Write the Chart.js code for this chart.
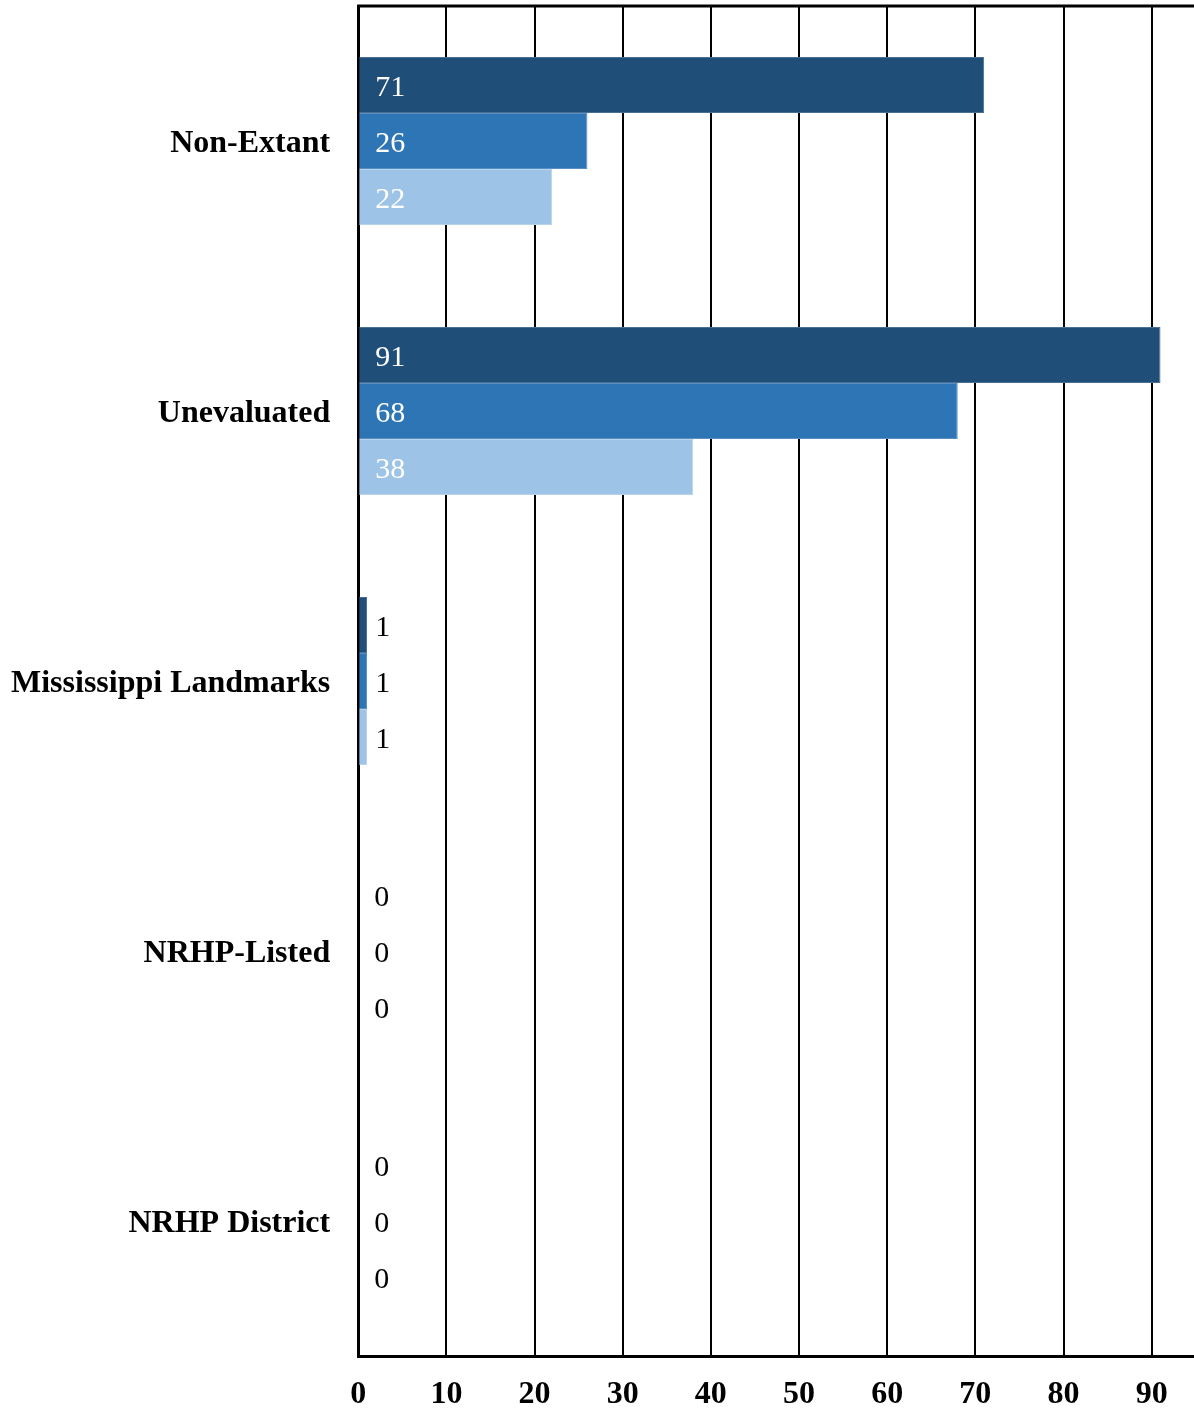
<!DOCTYPE html>
<html>
<head>
<meta charset="utf-8">
<script src="https://cdn.jsdelivr.net/npm/chart.js@4.4.0/dist/chart.umd.min.js"></script>
<style>
  html, body { margin: 0; padding: 0; background: #fff; }
  #wrap { width: 1194px; height: 1409px; position: relative; }
</style>
</head>
<body>
<div id="wrap"><canvas id="chart"></canvas></div>
<script>
const categories = ['Non-Extant', 'Unevaluated', 'Mississippi Landmarks', 'NRHP-Listed', 'NRHP District'];
const seriesA = [71, 91, 1, 0, 0];
const seriesB = [26, 68, 1, 0, 0];
const seriesC = [22, 38, 1, 0, 0];
const xTicks = [0, 10, 20, 30, 40, 50, 60, 70, 80, 90];

const colors = ['#1F4E79', '#2E75B6', '#9DC3E6'];
const edges = ['#4A6F95', '#5A8FC4', '#B8D4EC'];

const X_PAD = 20;
const Y_PAD = 28;

// value labels at the bar base, white when they fit inside the bar
const valueLabels = {
  id: 'valueLabels',
  afterDatasetsDraw(chart) {
    const ctx = chart.ctx;
    ctx.save();
    ctx.font = '30px "Liberation Serif", "Times New Roman", serif';
    ctx.textBaseline = 'middle';
    ctx.textAlign = 'left';
    chart.data.datasets.forEach((ds, i) => {
      const meta = chart.getDatasetMeta(i);
      meta.data.forEach((bar, j) => {
        const v = ds.data[j];
        const text = String(v);
        const w = ctx.measureText(text).width;
        const x0 = bar.base + 16;
        ctx.fillStyle = (bar.x - bar.base) > w + 24 ? '#ffffff' : '#000000';
        ctx.fillText(text, x0, bar.y + 3);
      });
    });
    ctx.restore();
  }
};

const topBorder = {
  id: 'topBorder',
  afterDraw(chart) {
    const a = chart.chartArea;
    const ctx = chart.ctx;
    ctx.save();
    ctx.strokeStyle = '#000';
    ctx.lineWidth = 3;
    ctx.beginPath();
    ctx.moveTo(a.left - 1, a.top);
    ctx.lineTo(a.right, a.top);
    ctx.stroke();
    ctx.restore();
  }
};

function makeSet(label, data, i) {
  return {
    label: label,
    data: data,
    backgroundColor: colors[i],
    borderColor: edges[i],
    borderWidth: 1,
    barPercentage: 1,
    categoryPercentage: 0.622
  };
}

new Chart(document.getElementById('chart'), {
  type: 'bar',
  data: {
    labels: categories,
    datasets: [
      makeSet('Series 1', seriesA, 0),
      makeSet('Series 2', seriesB, 1),
      makeSet('Series 3', seriesC, 2)
    ]
  },
  options: {
    indexAxis: 'y',
    responsive: true,
    maintainAspectRatio: false,
    animation: false,
    layout: { padding: { top: 6, right: 0, bottom: 0, left: 11 } },
    plugins: {
      legend: { display: false },
      tooltip: { enabled: false }
    },
    scales: {
      x: {
        min: 0,
        max: 94.8,
        afterBuildTicks(axis) {
          axis.ticks = xTicks.map(v => ({ value: v }));
        },
        afterFit(scale) {
          // chart.js counts tick padding twice, so fix the axis height
          scale.height = 53;
          scale.paddingLeft = 0;
          scale.paddingRight = 0;
        },
        grid: {
          color: '#000',
          lineWidth: 2,
          drawTicks: false
        },
        border: { display: true, color: '#000', width: 3 },
        ticks: {
          color: '#000',
          padding: X_PAD,
          maxRotation: 0,
          font: { family: '"Liberation Serif", "Times New Roman", serif', size: 32, weight: 'bold' }
        }
      },
      y: {
        afterFit(scale) {
          scale.width -= Y_PAD;
          scale.paddingTop = 0;
          scale.paddingBottom = 0;
        },
        grid: { display: true, color: 'transparent', drawTicks: false },
        border: { display: true, color: '#000', width: 3 },
        ticks: {
          color: '#000',
          padding: Y_PAD,
          labelOffset: 3,
          font: { family: '"Liberation Serif", "Times New Roman", serif', size: 32, weight: 'bold' }
        }
      }
    }
  },
  plugins: [valueLabels, topBorder]
});
</script>
</body>
</html>
